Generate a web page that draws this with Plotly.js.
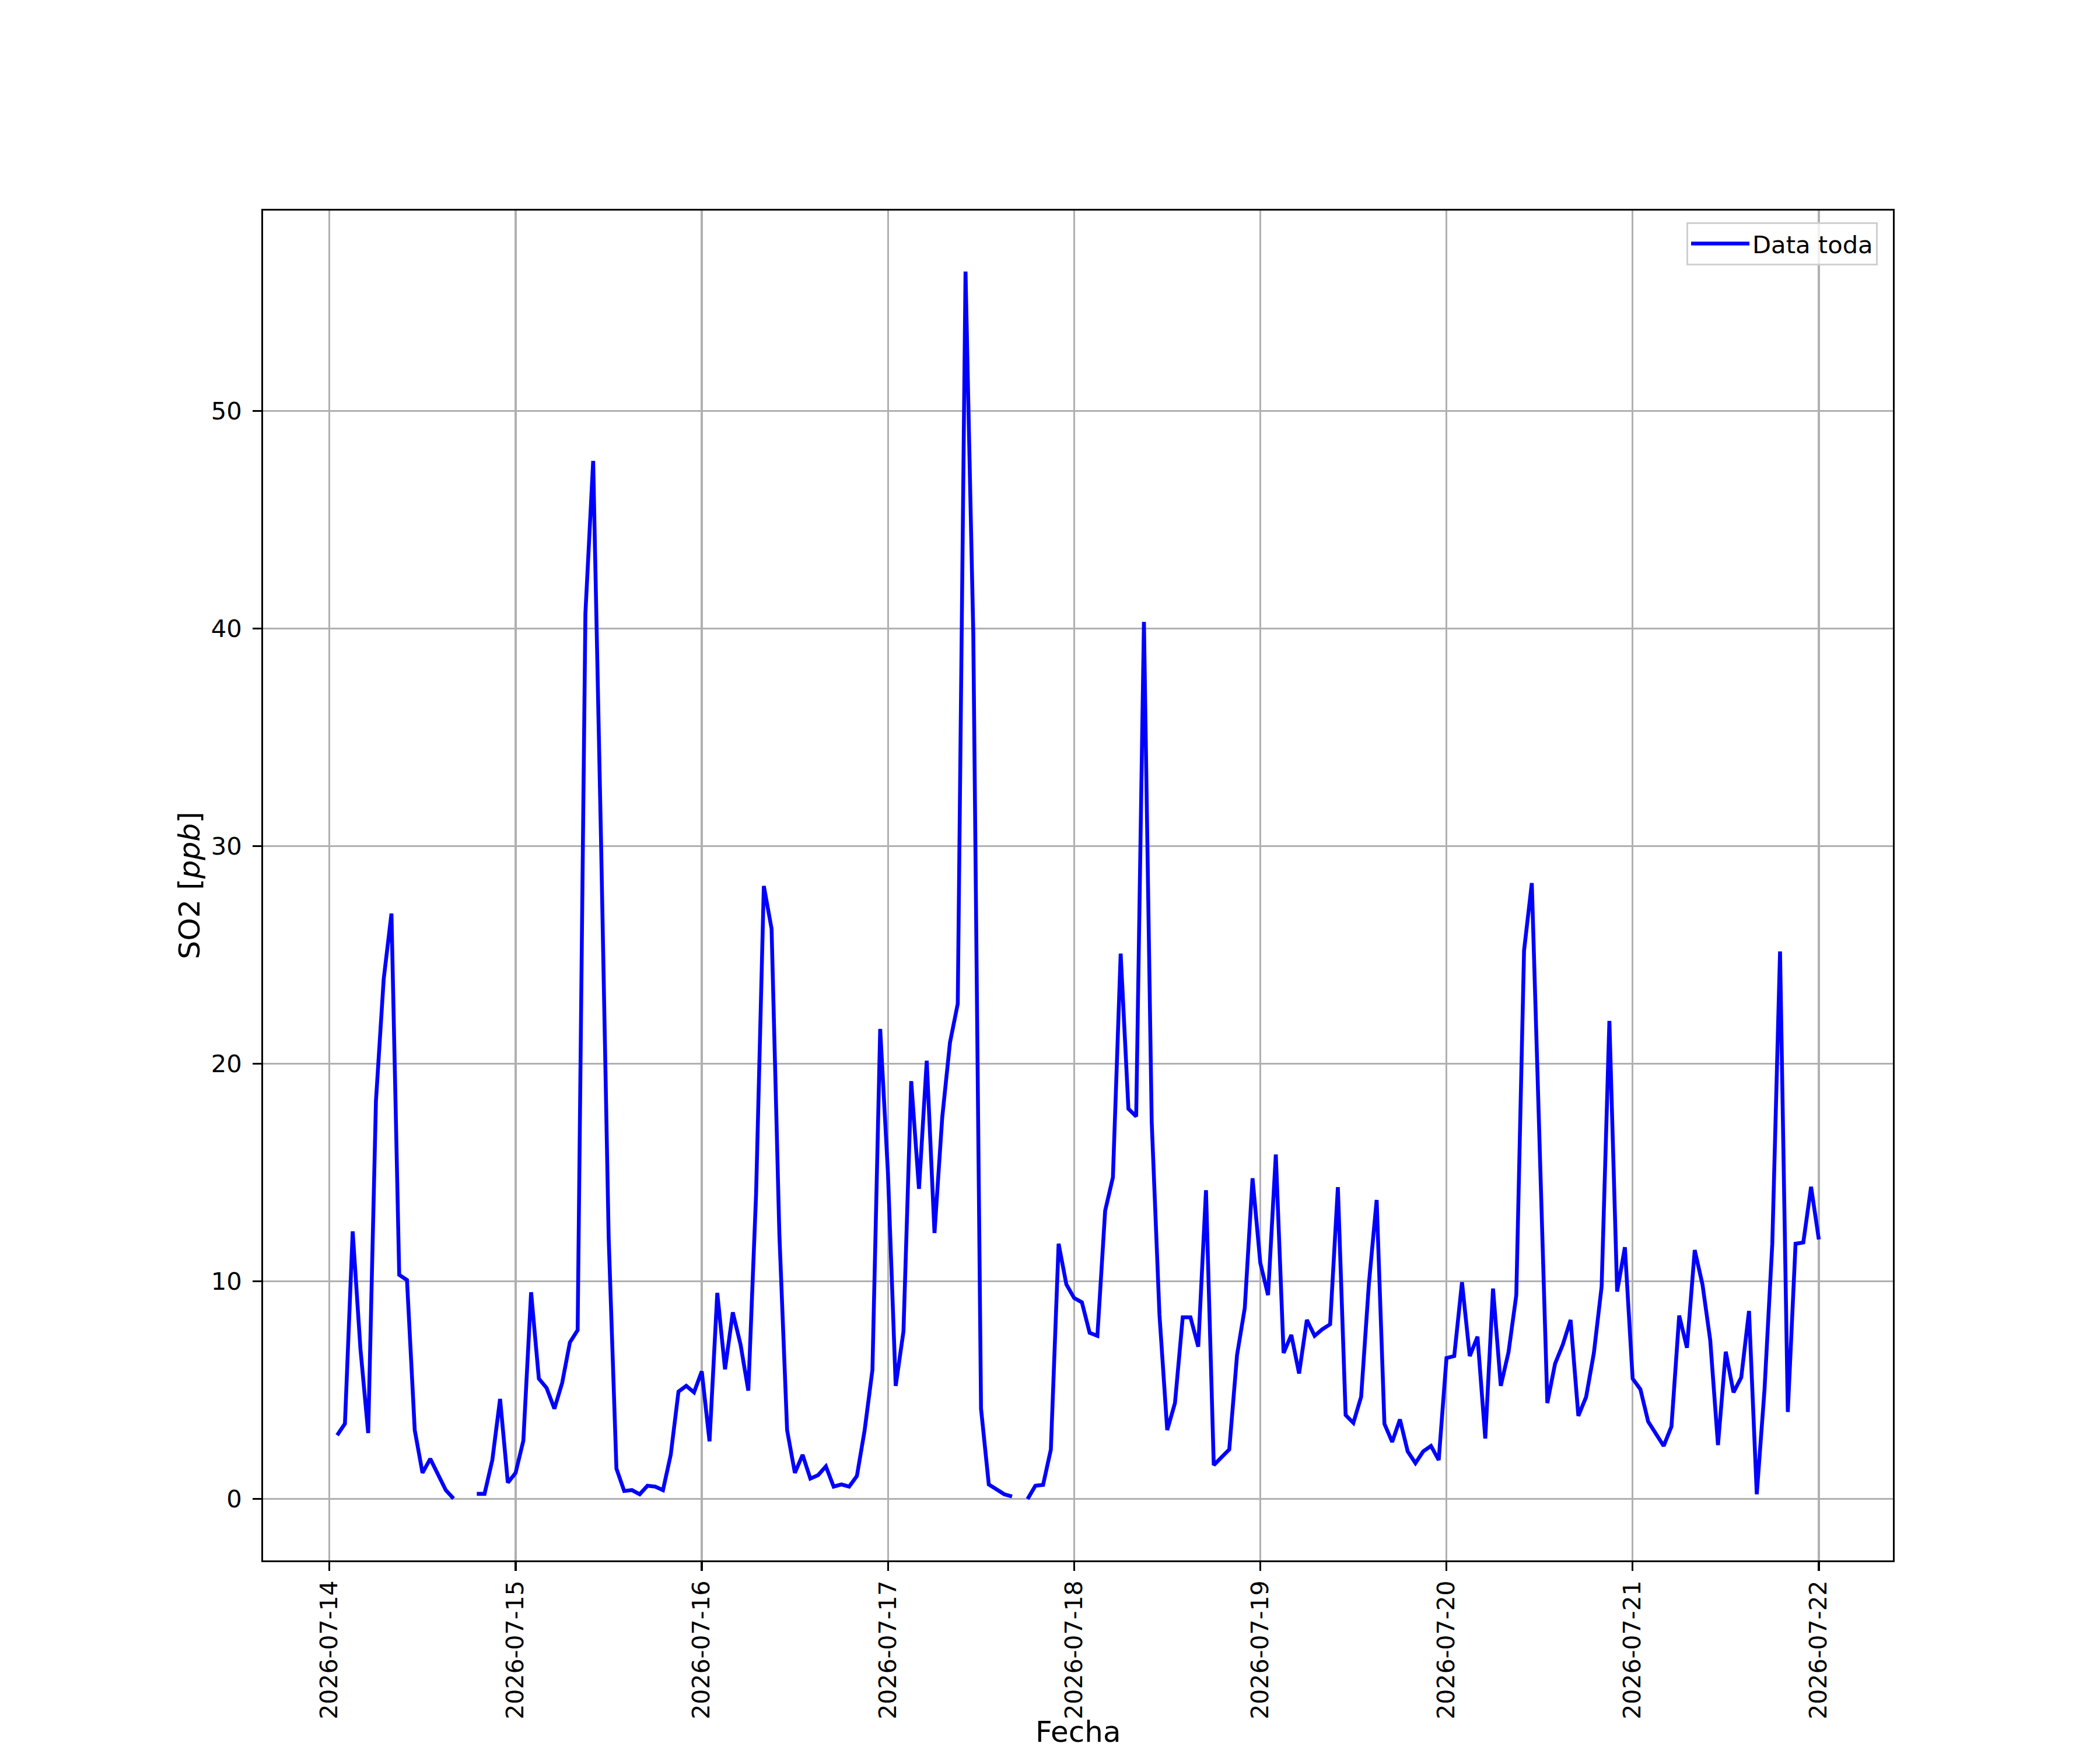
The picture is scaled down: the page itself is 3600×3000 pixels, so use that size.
<!DOCTYPE html>
<html>
<head>
<meta charset="utf-8">
<script src="https://cdn.plot.ly/plotly-3.0.1.min.js"></script>
<style>html,body{margin:0;padding:0;background:#fff;}#chart{width:3600px;height:3000px;}</style>
</head>
<body>
<div id="chart"></div>
<script>
// Day labels (each day has hourly readings 00:00 ... 23:00)
const days = ['2026-07-14','2026-07-15','2026-07-16','2026-07-17','2026-07-18','2026-07-19','2026-07-20','2026-07-21','2026-07-22'];
const hours = ['00','01','02','03','04','05','06','07','08','09','10','11','12','13','14','15','16','17','18','19','20','21','22','23'];

// SO2 [ppb] hourly values per day (null = no reading)
const so2_0714 = [null, 2.93, 3.46, 12.3, 6.9, 3.03, 18.3, 23.9, 26.9, 10.3, 10.06, 3.17, 1.2, 1.85, 1.14, 0.41, 0.02, null, null, 0.24, 0.24, 1.79, 4.6, 0.75];
const so2_0715 = [1.2, 2.68, 9.5, 5.53, 5.1, 4.15, 5.33, 7.2, 7.76, 40.7, 47.7, 30.5, 12.0, 1.4, 0.37, 0.41, 0.22, 0.61, 0.57, 0.41, 2.03, 4.94, 5.2, 4.9];
const so2_0716 = [5.87, 2.65, 9.47, 5.96, 8.58, 7.1, 4.98, 14.0, 28.17, 26.2, 12.2, 3.17, 1.2, 2.03, 0.94, 1.1, 1.5, 0.57, 0.67, 0.57, 1.06, 3.17, 5.93, 21.6];
const so2_0717 = [14.98, 5.2, 7.7, 19.2, 14.25, 20.14, 12.22, 17.54, 20.98, 22.76, 56.4, 39.8, 4.15, 0.67, 0.47, 0.22, 0.12, null, 0.0, 0.61, 0.65, 2.28, 11.73, 9.86];
const so2_0718 = [9.24, 9.04, 7.64, 7.5, 13.25, 14.78, 25.06, 17.93, 17.58, 40.3, 17.34, 8.48, 3.17, 4.41, 8.35, 8.35, 7.0, 14.19, 1.56, 1.89, 2.28, 6.61, 8.78, 14.74];
const so2_0719 = [10.85, 9.37, 15.83, 6.71, 7.54, 5.77, 8.23, 7.5, 7.8, 8.03, 14.33, 3.86, 3.5, 4.7, 9.9, 13.74, 3.46, 2.62, 3.66, 2.19, 1.65, 2.19, 2.44, 1.79];
const so2_0720 = [6.48, 6.57, 9.96, 6.57, 7.46, 2.78, 9.67, 5.2, 6.75, 9.37, 25.2, 28.3, 16.0, 4.41, 6.22, 7.1, 8.23, 3.82, 4.69, 6.71, 9.76, 21.97, 9.53, 11.57];
const so2_0721 = [5.53, 5.04, 3.56, 2.97, 2.44, 3.33, 8.43, 6.95, 11.44, 9.86, 7.3, 2.48, 6.77, 4.9, 5.59, 8.64, 0.22, 5.04, 11.73, 25.16, 4.0, 11.73, 11.79, 14.35];
const so2_0722 = [11.93];

// Axis ticks and titles
const yTicks = [0, 10, 20, 30, 40, 50];
const xTicks = days;
const xTitle = 'Fecha';
const yTitle = 'SO2 [<i>ppb</i>]';

const perDay = [so2_0714, so2_0715, so2_0716, so2_0717, so2_0718, so2_0719, so2_0720, so2_0721, so2_0722];
const xs = [], ys = [];
perDay.forEach((vals, d) => {
  vals.forEach((v, h) => {
    if (d === 0 && h === 0) return; // series starts at 01:00
    xs.push(days[d] + ' ' + hours[h] + ':00');
    ys.push(v);
  });
});

const FONT = 'DejaVu Sans, Liberation Sans, sans-serif';

const trace = {
  x: xs, y: ys, type: 'scatter', mode: 'lines', name: 'Data toda',
  line: {color: '#0000ff', width: 6.6},
  connectgaps: false
};

const layout = {
  width: 3600, height: 3000,
  paper_bgcolor: '#ffffff', plot_bgcolor: '#ffffff',
  margin: {l: 451, r: 355, t: 361, b: 325, pad: 0},
  showlegend: true,
  font: {family: FONT, color: '#000000', size: 41.7},
  xaxis: {
    type: 'date',
    range: ['2026-07-13 15:27', '2026-07-22 09:33'],
    tickvals: xTicks, ticktext: xTicks,
    tickangle: -90,
    tickfont: {family: FONT, size: 41, color: '#000'},
    ticks: 'outside', ticklen: 14.6, tickwidth: 3.3, tickcolor: '#000',
    ticklabelstandoff: 0,
    showgrid: true, gridcolor: '#b0b0b0', gridwidth: 3.3,
    showline: true, mirror: true, linecolor: '#000', linewidth: 3.3,
    zeroline: false, automargin: false
  },
  yaxis: {
    range: [-2.82, 59.2],
    tickvals: yTicks,
    tickfont: {family: FONT, size: 41.7, color: '#000'},
    ticks: 'outside', ticklen: 14.6, tickwidth: 3.3, tickcolor: '#000',
    ticklabelstandoff: 10,
    showgrid: true, gridcolor: '#b0b0b0', gridwidth: 3.3,
    showline: true, mirror: true, linecolor: '#000', linewidth: 3.3,
    zeroline: false, automargin: false,
    title: {text: yTitle, font: {family: FONT, size: 50, color: '#000'}, standoff: 4}
  },
  annotations: [{
    text: xTitle, xref: 'paper', yref: 'paper', x: 0.5, y: -0.1402,
    xanchor: 'center', yanchor: 'bottom', showarrow: false, borderpad: 0,
    font: {family: FONT, size: 50, color: '#000'}
  }],
  legend: {
    x: 0.9907, y: 0.9914, xanchor: 'right', yanchor: 'top',
    bgcolor: 'rgba(255,255,255,0.8)', bordercolor: '#d0d0d0', borderwidth: 3,
    font: {family: FONT, size: 41.7, color: '#000'},
    itemwidth: 100
  }
};

Plotly.newPlot('chart', [trace], layout, {displayModeBar: false, staticPlot: true});
</script>
</body>
</html>
